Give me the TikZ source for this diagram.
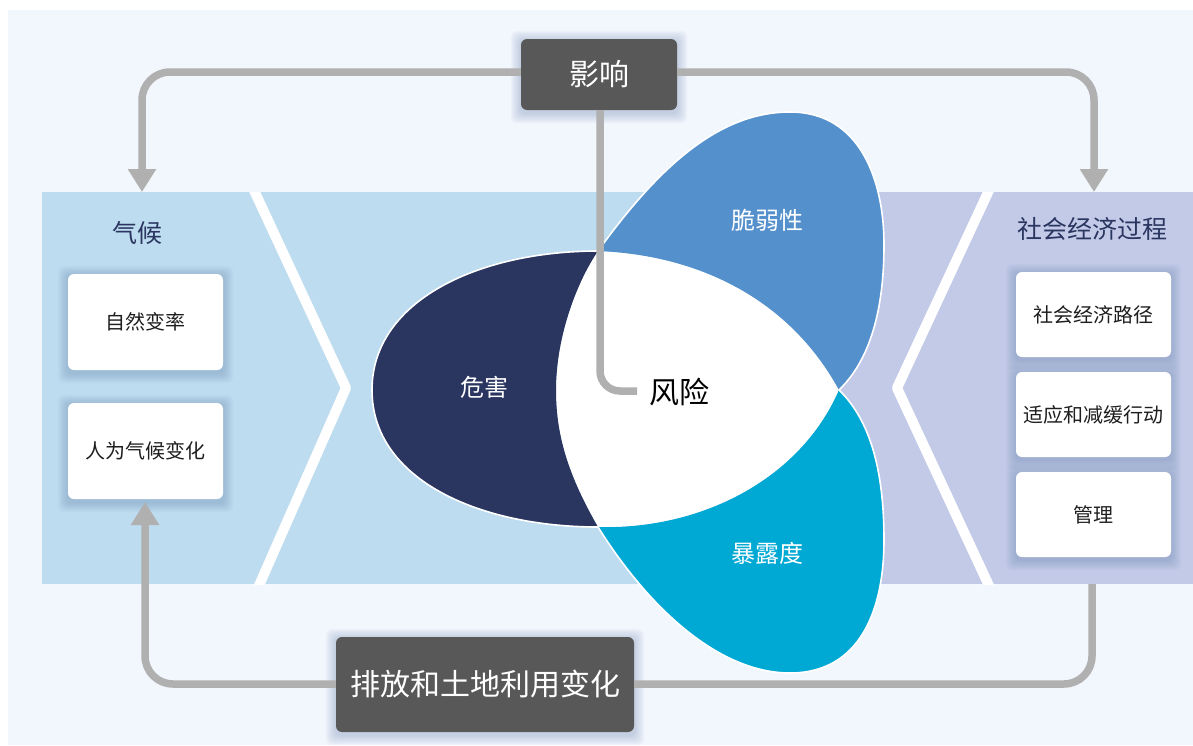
\documentclass[tikz,border=0pt]{standalone}
\usepackage{fontspec}
\newfontfamily\cjk{Noto Sans CJK SC}
\usetikzlibrary{arrows.meta}
\definecolor{bgc}{HTML}{F2F6FD}
\definecolor{bandl}{HTML}{BEDCEF}
\definecolor{bandr}{HTML}{C2CAE8}
\definecolor{navyc}{HTML}{2A3560}
\definecolor{bluec}{HTML}{5390CC}
\definecolor{cyanc}{HTML}{00A8D4}
\definecolor{connc}{HTML}{B0B0B0}
\definecolor{darkbox}{HTML}{585858}
\definecolor{txtdark}{HTML}{1E1E1E}
\definecolor{shadc}{HTML}{4A6A9A}
\pgfdeclarelayer{scene}
\pgfdeclarelayer{shad}
\pgfsetlayers{scene,shad,main}
\newcommand{\mysoftshadow}[1]{%
  \begin{pgfonlayer}{shad}
  \foreach \s in {1,...,9}{%
    \fill[shadc,opacity=0.032,rounded corners=6pt]
      ([xshift=-\s*1.1pt,yshift=\s*1.1pt-2pt]#1.north west) rectangle
      ([xshift=\s*1.1pt,yshift=-\s*1.1pt-3pt]#1.south east);
  }
  \end{pgfonlayer}}
\begin{document}
\begin{tikzpicture}[x=1pt,y=-1pt,
  conn/.style={draw=connc,line width=7.5pt,rounded corners=28pt},
  tipc/.style={-{Triangle[width=27pt,length=23pt]}},
  wbox/.style={fill=white,rounded corners=6pt,minimum width=155pt,inner sep=0pt,
    font=\cjk\fontsize{20}{24}\selectfont,text=txtdark},
  dbox/.style={fill=darkbox,rounded corners=6pt,inner sep=0pt,text=white,
    font=\cjk\fontsize{30}{36}\selectfont},
  plabel/.style={text=white,font=\cjk\fontsize{24}{28}\selectfont,inner sep=0pt},
  ttl/.style={text=navyc,font=\cjk\fontsize{25}{30}\selectfont,inner sep=0pt},
  chev/.style={draw=white,line width=10pt,line join=round},
  pedge/.style={draw=white,line width=1.6pt}
]
\useasboundingbox (0,0) rectangle (1193,745);
\begin{pgfonlayer}{scene}
\fill[white] (0,0) rectangle (1193,745);
\fill[bgc] (8,10) rectangle (1193,745);
% band
\fill[bandl] (42,192) rectangle (760,584);
\fill[bandr] (760,192) rectangle (1193,584);
\begin{scope}
\clip (42,192) rectangle (1193,584);
\draw[chev] (252,186) -- (346,388) -- (257,590);
\draw[chev] (991,186) -- (897,388) -- (991,590);
\end{scope}

% petals
\fill[white] (598,251) .. controls (700,255) and (790,300) .. (839,390)
  .. controls (800,480) and (700,530) .. (598,527)
  .. controls (565,470) and (556,430) .. (556,390)
  .. controls (556,335) and (578,280) .. cycle;
\fill[navyc] (598,251) .. controls (480,251) and (372,300) .. (372,390)
  .. controls (372,480) and (480,527) .. (598,527)
  .. controls (565,470) and (556,430) .. (556,390)
  .. controls (556,335) and (578,280) .. cycle;
\draw[pedge] (598,251) .. controls (480,251) and (372,300) .. (372,390)
  .. controls (372,480) and (480,527) .. (598,527);
\fill[bluec] (598,251) .. controls (660,165) and (720,112) .. (790,112)
  .. controls (860,112) and (884,180) .. (884,245)
  .. controls (884,310) and (870,360) .. (839,390)
  .. controls (790,300) and (700,255) .. cycle;
\draw[pedge] (598,251) .. controls (660,165) and (720,112) .. (790,112)
  .. controls (860,112) and (884,180) .. (884,245)
  .. controls (884,310) and (870,360) .. (839,390);
\fill[cyanc] (598,527) .. controls (650,610) and (720,673) .. (790,673)
  .. controls (860,673) and (884,610) .. (884,540)
  .. controls (884,470) and (870,420) .. (839,390)
  .. controls (800,480) and (700,530) .. cycle;
\draw[pedge] (598,527) .. controls (650,610) and (720,673) .. (790,673)
  .. controls (860,673) and (884,610) .. (884,540)
  .. controls (884,470) and (870,420) .. (839,390);
\end{pgfonlayer}

% named coordinates
\coordinate (tlc) at (142,72);
\coordinate (climTop) at (142,192);
\coordinate (trc) at (1094,72);
\coordinate (socTop) at (1094,192);
\coordinate (cc) at (600,391);
\coordinate (riskEnd) at (637,391);
\coordinate (blc) at (145,684);
\coordinate (anthTip) at (145,502);
\coordinate (brc) at (1092,684);
\coordinate (bandBot) at (1092,584);

\node[plabel] (haz) at (484,387) {危害};
\node[plabel] (vul) at (767,220) {脆弱性};
\node[plabel] (expo) at (767,553) {暴露度};
\node[inner sep=0pt,text=black,font=\cjk\fontsize{30}{36}\selectfont] (risk) at (679,392) {风险};

% titles
\node[ttl] (clim) at (137,233) {气候};
\node[ttl] (soc) at (1092,229) {社会经济过程};

% white boxes
\node[wbox,minimum height=96pt] (nat) at (145.5,322) {自然变率};
\node[wbox,minimum height=96pt] (anth) at (145.5,451) {人为气候变化};
\node[wbox,minimum height=85pt] (path) at (1093.5,314.5) {社会经济路径};
\node[wbox,minimum height=85pt] (adapt) at (1093.5,414.5) {适应和减缓行动};
\node[wbox,minimum height=85pt] (gov) at (1093.5,514.5) {管理};

% dark boxes
\node[dbox,minimum width=156pt,minimum height=71pt] (imp) at (599,74.5) {影响};
\node[dbox,minimum width=298pt,minimum height=95pt] (emis) at (485,684.5) {排放和土地利用变化};

\mysoftshadow{nat}
\mysoftshadow{anth}
\mysoftshadow{path}
\mysoftshadow{adapt}
\mysoftshadow{gov}
\mysoftshadow{imp}
\mysoftshadow{emis}

% connectors
\draw[conn,tipc] (imp.west |- tlc) -- (tlc) -- (climTop);
\draw[conn,tipc] (imp.east |- trc) -- (trc) -- (socTop);
\draw[conn,tipc] (emis.west |- blc) -- (blc) -- (anthTip);
\draw[conn] (emis.east |- brc) -- (brc) -- (bandBot);
\draw[conn,rounded corners=20pt] (imp.south -| cc) -- (cc) -- (riskEnd);
\end{tikzpicture}
\end{document}
